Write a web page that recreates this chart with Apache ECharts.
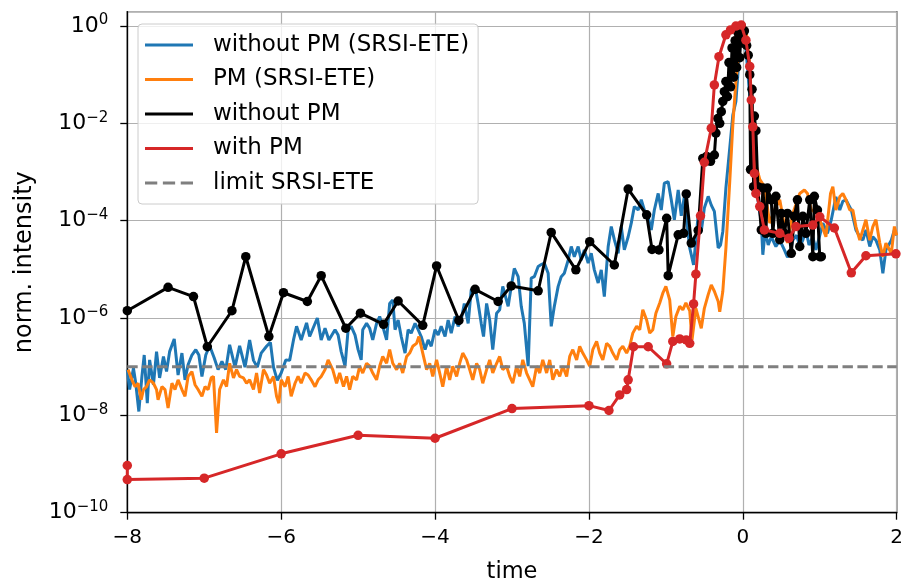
<!DOCTYPE html>
<html><head><meta charset="utf-8">
<script src="https://cdn.jsdelivr.net/npm/echarts@6/dist/echarts.min.js"></script>
<style>html,body{margin:0;padding:0;background:#fff}#c{width:901px;height:582px}</style>
</head><body><div id="c"></div>
<script>
// Values: pairs of [time, log10(norm. intensity)]
var seriesNames = ['without PM (SRSI-ETE)', 'PM (SRSI-ETE)', 'without PM', 'with PM', 'limit SRSI-ETE'];
var xTicks = [-8, -6, -4, -2, 0, 2];
var yTickExponents = [-10, -8, -6, -4, -2, 0];

var blueLog10 = [[-8.00,-7.06],[-7.97,-7.47],[-7.92,-7.03],[-7.89,-7.34],[-7.85,-7.92],[-7.81,-7.20],[-7.78,-6.76],[-7.74,-7.75],[-7.71,-6.86],[-7.66,-7.37],[-7.62,-6.69],[-7.58,-7.23],[-7.53,-6.79],[-7.49,-7.10],[-7.45,-6.69],[-7.39,-6.43],[-7.34,-7.17],[-7.29,-6.72],[-7.25,-7.27],[-7.21,-6.96],[-7.16,-6.76],[-7.11,-6.65],[-7.07,-6.76],[-7.03,-7.20],[-6.98,-6.76],[-6.93,-6.57],[-6.87,-6.82],[-6.82,-7.06],[-6.77,-6.89],[-6.72,-7.06],[-6.67,-6.55],[-6.60,-7.01],[-6.54,-6.57],[-6.47,-7.01],[-6.41,-6.45],[-6.36,-6.87],[-6.31,-7.01],[-6.26,-6.72],[-6.19,-6.58],[-6.14,-6.50],[-6.10,-7.01],[-6.05,-7.28],[-6.00,-7.13],[-5.94,-6.86],[-5.89,-6.87],[-5.84,-6.45],[-5.80,-6.17],[-5.74,-6.45],[-5.67,-6.10],[-5.63,-6.38],[-5.58,-6.19],[-5.53,-6.00],[-5.48,-6.45],[-5.43,-6.21],[-5.38,-6.45],
[-5.30,-6.24],[-5.26,-6.35],[-5.22,-6.69],[-5.17,-6.99],[-5.13,-6.24],[-5.09,-6.17],[-5.04,-6.35],[-5.00,-6.65],[-4.96,-6.86],[-4.94,-6.24],[-4.89,-6.11],[-4.85,-6.21],[-4.81,-6.45],[-4.76,-6.11],[-4.72,-5.97],[-4.68,-6.17],[-4.63,-6.45],[-4.59,-5.70],[-4.55,-5.63],[-4.52,-6.24],[-4.48,-6.04],[-4.44,-6.38],[-4.39,-6.72],[-4.35,-6.24],[-4.31,-6.31],[-4.26,-6.11],[-4.22,-6.24],[-4.18,-6.38],[-4.13,-6.65],[-4.09,-6.45],[-4.05,-6.58],[-4.00,-6.24],[-3.96,-6.35],[-3.92,-6.17],[-3.87,-6.38],[-3.83,-6.04],[-3.79,-6.31],[-3.74,-5.97],[-3.70,-6.17],[-3.66,-6.04],[-3.62,-5.70],[-3.57,-6.11],[-3.53,-5.42],[-3.48,-5.35],[-3.44,-5.70],[-3.40,-6.11],[-3.37,-6.38],[-3.33,-5.70],[-3.29,-6.04],[-3.25,-6.65],[-3.20,-5.90],[-3.16,-5.83],[-3.12,-5.35],[-3.05,-5.76],[-3.01,-5.35],[-2.97,-4.98],[-2.92,-5.15],[-2.88,-5.76],[-2.84,-6.11],[-2.79,-6.99],[-2.75,-5.18],[-2.71,-5.15],[-2.66,-4.94],
[-2.62,-4.90],[-2.58,-4.87],[-2.53,-5.08],[-2.49,-6.17],[-2.45,-5.76],[-2.40,-5.35],[-2.36,-5.15],[-2.32,-5.08],[-2.27,-4.81],[-2.23,-4.53],[-2.19,-4.74],[-2.14,-4.53],[-2.10,-4.81],[-2.06,-4.60],[-2.01,-4.87],[-1.97,-4.67],[-1.93,-5.01],[-1.88,-5.28],[-1.84,-5.01],[-1.80,-5.56],[-1.75,-4.53],[-1.71,-4.12],[-1.67,-4.39],[-1.62,-4.67],[-1.58,-4.12],[-1.54,-4.60],[-1.49,-4.33],[-1.45,-4.05],[-1.41,-3.71],[-1.36,-3.78],[-1.32,-3.57],[-1.28,-3.78],[-1.23,-3.92],[-1.19,-4.19],[-1.15,-3.78],[-1.10,-3.44],[-1.06,-3.78],[-1.02,-3.23],[-0.97,-3.20],[-0.93,-3.57],[-0.89,-3.98],[-0.84,-3.37],
[-0.80,-3.90],[-0.76,-3.50],[-0.72,-4.15],[-0.69,-4.56],[-0.64,-4.91],[-0.58,-3.88],[-0.54,-4.22],[-0.50,-3.74],[-0.45,-3.50],[-0.41,-3.68],[-0.37,-3.81],[-0.32,-4.56],[-0.29,-4.50],[-0.26,-4.22],[-0.22,-3.33],[-0.17,-2.51],[-0.13,-1.83],[-0.09,-1.55],[-0.04,-0.46],[-0.02,-0.05],[0.01,0.02],[0.04,-0.46],[0.11,-1.83],[0.15,-2.85],[0.20,-3.61],[0.24,-4.02],[0.26,-4.70],[0.29,-4.22],[0.33,-4.50],
[0.37,-4.33],[0.43,-4.53],[0.48,-4.40],[0.54,-4.60],[0.58,-4.75],[0.61,-4.67],[0.65,-4.40],[0.70,-4.30],[0.74,-4.53],[0.78,-4.40],[0.82,-4.19],[0.86,-4.50],[0.91,-4.33],[0.95,-4.60],[1.00,-4.30],[1.04,-4.05],[1.10,-4.26],[1.15,-3.98],[1.21,-3.51],[1.26,-3.78],[1.30,-3.60],[1.34,-3.57],[1.41,-3.78],[1.47,-4.19],[1.52,-4.33],[1.56,-4.40],[1.60,-4.19],[1.65,-4.53],[1.69,-4.33],[1.73,-4.40],[1.78,-4.60],[1.82,-5.08],[1.86,-4.60],[1.93,-4.40],[1.97,-4.19],[2.00,-4.30]];

var orangeLog10 = [[-7.99,-7.06],[-7.94,-7.27],[-7.90,-7.41],[-7.86,-7.34],[-7.82,-7.68],[-7.79,-7.47],[-7.75,-7.41],[-7.71,-7.27],[-7.66,-7.34],[-7.62,-7.47],[-7.60,-7.68],[-7.55,-7.41],[-7.51,-7.47],[-7.47,-7.85],[-7.42,-7.34],[-7.38,-7.47],[-7.34,-7.27],[-7.29,-7.47],[-7.25,-7.61],[-7.21,-7.20],[-7.16,-7.10],[-7.12,-7.37],[-7.08,-7.47],[-7.03,-7.61],[-6.99,-7.41],[-6.95,-7.47],[-6.91,-7.23],[-6.88,-7.20],[-6.84,-8.36],[-6.80,-7.47],[-6.75,-7.27],[-6.71,-7.41],[-6.67,-6.93],[-6.62,-7.23],[-6.58,-7.06],[-6.54,-7.20],[-6.49,-7.23],[-6.45,-7.34],[-6.41,-7.27],[-6.36,-7.47],[-6.32,-7.13],[-6.28,-7.54],[-6.23,-7.06],[-6.19,-7.17],[-6.15,-7.34],[-6.10,-7.20],[-6.06,-7.61],[-6.03,-7.75],[-6.00,-7.27],[-5.95,-7.41],[-5.91,-7.20],[-5.87,-7.61],[-5.82,-7.34],[-5.78,-7.20],[-5.74,-7.34],[-5.69,-7.13],[-5.65,-7.17],[-5.61,-7.27],[-5.56,-7.41],[-5.52,-7.27],[-5.48,-7.20],[-5.43,-7.06],[-5.39,-6.86],
[-5.33,-7.06],[-5.28,-7.34],[-5.24,-7.13],[-5.19,-7.41],[-5.15,-7.20],[-5.11,-7.47],[-5.07,-7.20],[-5.02,-7.27],[-4.98,-6.99],[-4.94,-7.13],[-4.89,-6.93],[-4.85,-6.99],[-4.81,-7.13],[-4.76,-7.27],[-4.72,-6.99],[-4.68,-6.79],[-4.63,-6.93],[-4.59,-6.65],[-4.55,-6.93],[-4.50,-7.06],[-4.46,-6.93],[-4.42,-7.13],[-4.37,-6.79],[-4.33,-6.72],[-4.29,-6.58],[-4.24,-6.52],[-4.21,-6.38],[-4.16,-6.72],[-4.11,-7.06],[-4.07,-6.93],[-4.03,-7.20],[-3.98,-6.86],[-3.94,-7.13],[-3.90,-7.41],[-3.85,-6.99],[-3.81,-7.27],[-3.77,-6.99],[-3.72,-7.20],[-3.68,-6.93],[-3.64,-6.72],[-3.59,-6.86],[-3.55,-7.06],[-3.51,-7.27],[-3.46,-6.93],[-3.42,-7.06],[-3.38,-7.34],[-3.33,-7.06],[-3.29,-6.86],[-3.25,-7.13],[-3.20,-6.93],[-3.16,-6.79],[-3.12,-7.06],[-3.07,-6.99],[-3.03,-7.20],[-2.99,-7.34],[-2.94,-6.99],[-2.90,-7.20],[-2.86,-6.86],[-2.81,-7.13],[-2.77,-7.27],[-2.73,-7.41],
[-2.68,-6.99],[-2.64,-7.13],[-2.60,-6.86],[-2.55,-7.13],[-2.51,-6.86],[-2.47,-7.27],[-2.42,-7.06],[-2.38,-7.20],[-2.34,-6.99],[-2.29,-7.20],[-2.25,-6.79],[-2.21,-6.65],[-2.16,-6.86],[-2.12,-6.58],[-2.08,-6.72],[-2.03,-6.86],[-1.99,-6.99],[-1.95,-6.65],[-1.90,-6.48],[-1.86,-6.72],[-1.82,-6.86],[-1.77,-6.52],[-1.73,-6.58],[-1.69,-6.72],[-1.64,-6.86],[-1.60,-6.65],[-1.56,-6.58],[-1.51,-6.72],[-1.47,-6.58],[-1.43,-6.31],[-1.38,-6.17],[-1.34,-6.24],[-1.30,-5.83],[-1.25,-6.04],[-1.21,-6.31],[-1.17,-6.24],[-1.13,-5.90],[-1.08,-5.69],[-1.04,-5.49],[-1.00,-5.35],[-0.95,-5.63],[-0.91,-6.38],[-0.87,-5.97],[-0.82,-5.76],[-0.78,-5.83],[-0.74,-5.69],[-0.69,-5.85],[-0.66,-6.45],[-0.61,-5.80],[-0.54,-6.21],[-0.50,-5.80],[-0.45,-5.52],[-0.41,-5.32],[-0.37,-5.45],[-0.32,-5.66],[-0.30,-5.87],[-0.26,-5.45],[-0.22,-4.57],[-0.17,-3.20],[-0.13,-2.03],[-0.09,-1.14],[-0.04,-0.39],[0.00,0.02],[0.04,-0.05],[0.09,-0.80],[0.13,-2.17],[0.17,-2.85],[0.22,-3.15],
[0.28,-3.30],[0.35,-4.05],[0.41,-3.78],[0.48,-3.57],[0.52,-3.92],[0.58,-4.46],[0.65,-3.85],[0.74,-3.44],[0.80,-3.37],[0.84,-3.44],[0.89,-3.78],[0.97,-3.85],[1.08,-4.33],[1.14,-3.44],[1.17,-3.30],[1.21,-3.78],[1.26,-3.51],[1.30,-3.44],[1.34,-3.57],[1.39,-3.78],[1.43,-3.78],[1.47,-4.12],[1.52,-4.40],[1.56,-4.19],[1.60,-3.98],[1.65,-4.40],[1.69,-4.12],[1.73,-3.98],[1.78,-4.46],[1.82,-4.74],[1.86,-4.46],[1.93,-4.67],[1.97,-4.12],[2.00,-4.30]];

var blackLog10 = [[-8.00,-5.85],[-7.47,-5.37],[-7.14,-5.56],[-6.96,-6.59],[-6.64,-5.85],[-6.46,-4.74],[-6.16,-6.38],[-5.97,-5.48],[-5.66,-5.66],[-5.48,-5.13],[-5.16,-6.21],[-4.97,-5.90],[-4.67,-6.13],[-4.48,-5.65],[-4.16,-6.15],[-3.98,-4.93],[-3.69,-6.05],[-3.48,-5.41],[-3.18,-5.66],[-3.01,-5.34],[-2.66,-5.44],[-2.49,-4.24],[-2.17,-5.01],[-1.99,-4.43],[-1.67,-4.91],[-1.49,-3.35],[-1.25,-3.88],[-1.18,-4.59],[-1.09,-4.60],[-0.99,-3.95],[-0.97,-5.13],[-0.84,-4.29],[-0.77,-4.26],[-0.735,-3.45],[-0.67,-4.46],[-0.58,-4.20],[-0.52,-2.72],[-0.47,-2.68],[-0.42,-2.78],[-0.37,-2.65],[-0.35,-2.20],[-0.325,-1.90],[-0.30,-2.00],[-0.28,-1.76],[-0.26,-1.55],[-0.24,-1.35],[-0.22,-1.14],[-0.20,-1.45],[-0.18,-0.75],[-0.16,-1.25],[-0.14,-0.45],[-0.12,-1.05],[-0.10,-0.30],[-0.08,-0.85],[-0.06,-0.15],[-0.04,-0.65],[-0.02,0.00],[0.00,-0.35],[0.02,-0.10],[0.05,-0.40],[0.07,-0.60],[0.09,-1.00],[0.10,-2.95],[0.12,-1.30],[0.14,-3.30],[0.15,-1.85],[0.17,-2.15],[0.195,-3.30],[0.24,-4.19],[0.26,-3.33],[0.30,-4.26],[0.32,-3.33],[0.37,-3.57],[0.39,-4.26],[0.43,-3.50],[0.48,-4.39],[0.50,-3.85],[0.54,-4.26],[0.58,-3.85],[0.63,-4.67],[0.67,-3.91],[0.71,-3.57],[0.74,-4.53],[0.78,-3.91],[0.82,-4.26],[0.87,-3.57],[0.91,-4.74],[0.93,-3.50],[0.97,-3.78],[1.00,-4.74],[1.02,-4.74]];

var redLog10 = [[-8.00,-9.03],[-8.00,-9.32],[-7.00,-9.29],[-6.00,-8.79],[-5.00,-8.41],[-4.00,-8.47],[-3.00,-7.86],[-2.00,-7.80],[-1.74,-7.90],[-1.60,-7.58],[-1.51,-7.47],[-1.49,-7.27],[-1.42,-6.59],[-1.23,-6.59],[-0.99,-6.94],[-0.91,-6.48],[-0.82,-6.43],[-0.735,-6.45],[-0.69,-6.52],[-0.64,-5.71],[-0.61,-5.10],[-0.55,-3.90],[-0.50,-2.80],[-0.41,-2.10],[-0.37,-1.21],[-0.31,-0.63],[-0.22,-0.18],[-0.16,-0.08],[-0.09,0.00],[-0.02,0.02],[0.04,-0.29],[0.09,-0.83],[0.11,-1.52],[0.13,-2.07],[0.15,-3.03],[0.17,-3.44],[0.22,-3.71],[0.28,-4.19],[0.48,-4.26],[0.60,-4.36],[0.69,-4.12],[0.91,-4.09],[1.00,-3.92],[1.19,-4.15],[1.41,-5.07],[1.60,-4.72],[1.99,-4.68]];

var limitLog10 = [[-8, -7], [2, -7]];

function toData(arr) { return arr.map(function (p) { return [p[0], Math.pow(10, p[1])]; }); }
var FONT = 'DejaVu Sans';
function minus(n) { return n < 0 ? '\u2212' + (-n) : '' + n; }

var chart = echarts.init(document.getElementById('c'), null, { renderer: 'canvas' });
var lineIcon = 'path://M0,0H48V3H0Z';
var dashIcon = 'path://M0,0H12V3H0Z M17.5,0H29.5V3H17.5Z M35,0H47V3H35Z';
var LW = 3.0;
chart.setOption({
  animation: false,
  backgroundColor: '#ffffff',
  grid: { left: 127.3, right: 4.3, top: 11.7, bottom: 69.3, containLabel: false, outerBoundsMode: 'none', show: true, borderColor: '#000', borderWidth: 1.3, backgroundColor: 'transparent' },
  legend: {
    orient: 'vertical', left: 138, top: 24,
    itemWidth: 48, itemHeight: 3, itemGap: 8.5, symbolKeepAspect: false,
    padding: [8, 9, 8, 7],
    backgroundColor: 'rgba(255,255,255,0.8)', borderColor: '#cccccc', borderWidth: 1, borderRadius: 4,
    textStyle: { fontFamily: FONT, fontSize: 23, color: '#000', lineHeight: 26, padding: [0, 0, 0, 15] },
    data: [
      { name: seriesNames[0], icon: lineIcon },
      { name: seriesNames[1], icon: lineIcon },
      { name: seriesNames[2], icon: lineIcon },
      { name: seriesNames[3], icon: lineIcon },
      { name: seriesNames[4], icon: dashIcon }
    ],
    itemStyle: { borderWidth: 0 }, lineStyle: { width: 0 }
  },
  xAxis: {
    type: 'value', min: xTicks[0], max: xTicks[xTicks.length - 1], interval: 2,
    name: 'time', nameLocation: 'middle', nameGap: 48,
    nameTextStyle: { fontFamily: FONT, fontSize: 22.5, color: '#000' },
    axisLine: { show: true, onZero: false, lineStyle: { color: '#000', width: 1.3 } },
    axisTick: { show: true, inside: false, length: 7, lineStyle: { color: '#000', width: 1.3 } },
    axisLabel: { margin: 15, fontFamily: FONT, fontSize: 20, color: '#000', formatter: function (v) { return minus(v); } },
    splitLine: { show: true, lineStyle: { color: '#b0b0b0', width: 1.2 } }
  },
  yAxis: {
    type: 'log', logBase: 10, min: Math.pow(10, yTickExponents[0]), max: 1.97, interval: 2,
    name: 'norm. intensity', nameLocation: 'middle', nameGap: 91,
    nameTextStyle: { fontFamily: FONT, fontSize: 24, color: '#000' },
    axisLine: { show: true, onZero: false, lineStyle: { color: '#000', width: 1.3 } },
    axisTick: { show: true, inside: false, length: 7, lineStyle: { color: '#000', width: 1.3 } },
    axisLabel: {
      margin: 19, showMaxLabel: false,
      formatter: function (v) { var e = Math.round(Math.log10(v)); return '{b|10}{s|' + minus(e) + '}'; },
      rich: {
        b: { fontFamily: FONT, fontSize: 22, color: '#000', lineHeight: 26 },
        s: { fontFamily: FONT, fontSize: 15, color: '#000', lineHeight: 17, verticalAlign: 'top' }
      }
    },
    splitLine: { show: true, lineStyle: { color: '#b0b0b0', width: 1.2 } },
    minorTick: { show: false }
  },
  series: [
    { name: seriesNames[0], type: 'line', data: toData(blueLog10), showSymbol: false, symbol: 'none', color: '#1f77b4', lineStyle: { color: '#1f77b4', width: LW }, itemStyle: { color: '#1f77b4' }, z: 2 },
    { name: seriesNames[1], type: 'line', data: toData(orangeLog10), showSymbol: false, symbol: 'none', color: '#ff7f0e', lineStyle: { color: '#ff7f0e', width: LW }, itemStyle: { color: '#ff7f0e' }, z: 3 },
    { name: seriesNames[2], type: 'line', data: toData(blackLog10), symbol: 'circle', symbolSize: 9.5, showSymbol: true, color: '#000', lineStyle: { color: '#000', width: LW }, itemStyle: { color: '#000' }, z: 4 },
    { name: seriesNames[3], type: 'line', data: toData(redLog10), symbol: 'circle', symbolSize: 9.5, showSymbol: true, color: '#d62728', lineStyle: { color: '#d62728', width: LW }, itemStyle: { color: '#d62728' }, z: 5 },
    { name: seriesNames[4], type: 'line', data: toData(limitLog10), showSymbol: false, symbol: 'none', color: '#7f7f7f', lineStyle: { color: '#7f7f7f', width: LW, type: [10.4, 4.5] }, itemStyle: { color: '#7f7f7f' }, z: 6 }
  ]
});
</script></body></html>
